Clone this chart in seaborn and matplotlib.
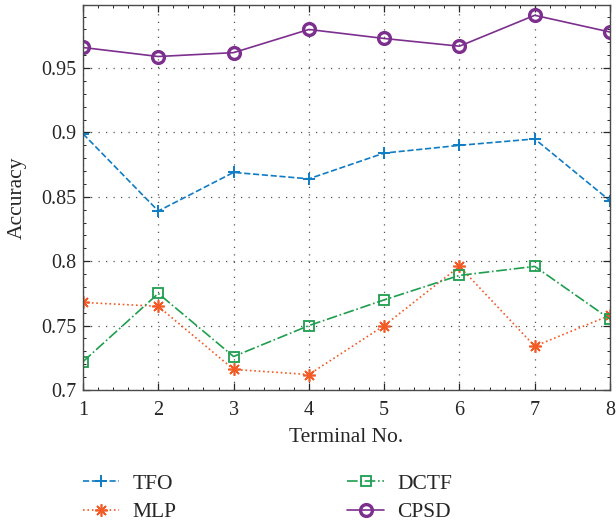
import matplotlib
matplotlib.use("Agg")
import matplotlib.pyplot as plt
from matplotlib.ticker import AutoMinorLocator
import seaborn as sns
import pandas as pd

terminals = [1, 2, 3, 4, 5, 6, 7, 8]
tfo = [0.899, 0.839, 0.869, 0.864, 0.884, 0.890, 0.895, 0.847]
mlp = [0.768, 0.765, 0.716, 0.712, 0.750, 0.796, 0.734, 0.758]
dctf = [0.722, 0.775, 0.726, 0.750, 0.770, 0.789, 0.796, 0.755]
cpsd = [0.966, 0.959, 0.962, 0.980, 0.973, 0.967, 0.991, 0.978]

y_ticks = [0.7, 0.75, 0.8, 0.85, 0.9, 0.95]
y_tick_labels = ["0.7", "0.75", "0.8", "0.85", "0.9", "0.95"]

sns.set_style("ticks")
plt.rcParams["font.family"] = ["Liberation Serif", "DejaVu Serif"]

fig = plt.figure(figsize=(6.16, 5.21), dpi=100)
ax = fig.add_axes([83 / 616, 131 / 521, 527 / 616, 385 / 521])

series = [
    ("TFO", tfo, "#0f7cc4", "--", "+", dict(markersize=9, markeredgewidth=1.4)),
    ("MLP", mlp, "#f25a26", ":", (8, 2, 0), dict(markersize=9, markeredgewidth=1.2)),
    ("DCTF", dctf, "#1e9e4e", "-.", "s", dict(markersize=7, markeredgewidth=1.3,
                                               markerfacecolor="none")),
    ("CPSD", cpsd, "#7d2f8e", "-", "o", dict(markersize=8.5, markeredgewidth=2.4,
                                              markerfacecolor="none")),
]

for name, values, color, ls, mk, mkw in series:
    df = pd.DataFrame({"Terminal No.": terminals, "Accuracy": values})
    sns.lineplot(data=df, x="Terminal No.", y="Accuracy", ax=ax, color=color,
                 linestyle=ls, linewidth=1.2, marker=mk, markeredgecolor=color,
                 label=name, **mkw)

ax.set_xlim(1, 8)
ax.set_ylim(0.7, 0.999)
ax.set_xticks(terminals)
ax.set_yticks(y_ticks)
ax.set_yticklabels(y_tick_labels)
ax.xaxis.set_minor_locator(AutoMinorLocator(5))
ax.yaxis.set_minor_locator(AutoMinorLocator(5))
ax.tick_params(which="both", direction="in", top=True, right=True,
               colors="#262626", labelsize=14.5, labelcolor="#262626")
ax.tick_params(which="major", length=5, width=0.9)
ax.tick_params(axis="x", which="major", pad=8)
ax.tick_params(axis="y", which="major", pad=5)
ax.tick_params(which="minor", length=2.5, width=0.7)
ax.grid(True, which="major", linestyle=(0, (1, 5)), color="#555555", linewidth=0.9)
for sp in ax.spines.values():
    sp.set_color("#4a4a4a")
    sp.set_linewidth(1.0)

ax.set_xlabel("Terminal No.", fontsize=15.5, color="#262626", labelpad=6)
ax.set_ylabel("Accuracy", fontsize=15.5, color="#262626", labelpad=10)

handles, labels = ax.get_legend_handles_labels()
ax.legend_.remove()
fig.legend(handles, labels, ncol=2, loc="upper left",
           bbox_to_anchor=(72 / 616, 1 - 463 / 521), frameon=False,
           fontsize=15.5, handlelength=1.7, handletextpad=0.6,
           columnspacing=7.95, labelspacing=0.38, borderpad=0,
           labelcolor="#262626")

fig.savefig("out.png", dpi=100)
